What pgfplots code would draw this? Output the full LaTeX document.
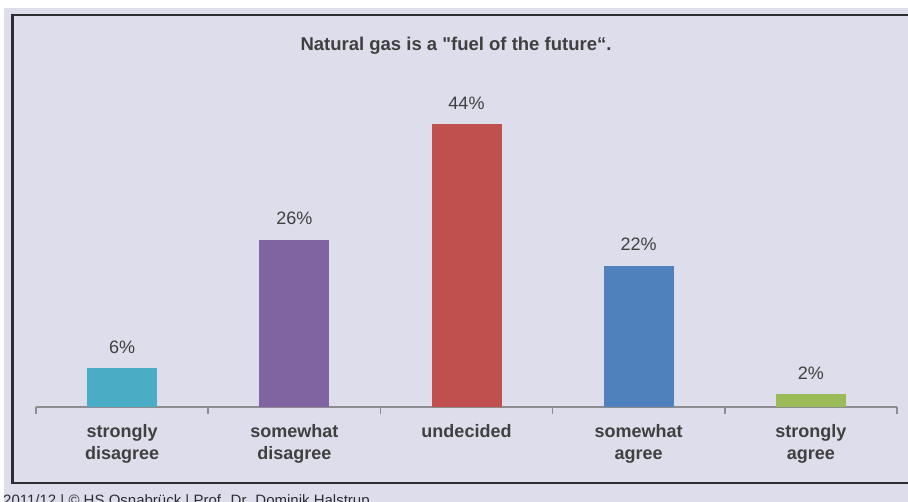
\documentclass[border=0pt]{standalone}
\usepackage{pgfplots}
\pgfplotsset{compat=1.18}
\usepackage{fontspec}
\setmainfont{Liberation Sans}
\newfontfamily\rawfont{Liberation Sans}[Ligatures=ResetAll]
\definecolor{bg}{RGB}{221,221,235}
\definecolor{bordercol}{RGB}{45,45,50}
\definecolor{axisgray}{RGB}{140,140,145}
\definecolor{txt}{RGB}{64,64,64}
\definecolor{cteal}{RGB}{75,172,198}
\definecolor{cpurple}{RGB}{128,100,162}
\definecolor{cred}{RGB}{192,80,77}
\definecolor{cblue}{RGB}{79,129,189}
\definecolor{cgreen}{RGB}{155,187,89}
\begin{document}
\begin{tikzpicture}[x=1pt,y=1pt]
\useasboundingbox (0,0) rectangle (908,502);
\clip (0,0) rectangle (908,502);
\fill[white] (0,0) rectangle (908,502);
\fill[bg] (4,0) rectangle (908,494);
\draw[line width=2.5pt, draw=bordercol] (12.5,19) rectangle (930,487);
\begin{axis}[
  at={(36pt,95pt)}, anchor=south west,
  scale only axis, width=861pt, height=321.5pt,
  xmin=-0.5, xmax=4.5, ymin=0, ymax=50,
  ybar, bar shift=0pt, bar width=70pt,
  hide y axis, axis x line*=bottom,
  x axis line style={draw=axisgray, line width=1.5pt},
  xtick={0,1,2,3,4},
  xticklabels={{strongly\\disagree},{somewhat\\disagree},{undecided},{somewhat\\agree},{strongly\\agree}},
  major tick length=0pt,
  minor xtick={-0.5,0.5,1.5,2.5,3.5,4.5},
  minor tick length=7pt, tick align=outside,
  minor tick style={draw=axisgray, line width=1.5pt},
  xticklabel style={font=\fontsize{18}{22}\selectfont\bfseries, text=txt, align=center, anchor=north, yshift=-14pt},
  /pgf/number format/assume math mode=true,
  nodes near coords={\pgfmathprintnumber{\pgfplotspointmeta}\%},
  every node near coord/.append style={font=\fontsize{18}{21}\selectfont, text=txt, anchor=base, yshift=15pt},
  clip=false,
]
\addplot[fill=cteal, draw=none] coordinates {(0,6)};
\addplot[fill=cpurple, draw=none] coordinates {(1,26)};
\addplot[fill=cred, draw=none] coordinates {(2,44)};
\addplot[fill=cblue, draw=none] coordinates {(3,22)};
\addplot[fill=cgreen, draw=none] coordinates {(4,2)};
\end{axis}
\node[anchor=base, font=\fontsize{18.5}{22}\selectfont\bfseries, text=txt] at (456,451) {Natural gas is a {\rawfont\bfseries"}fuel of the future“.};
\node[anchor=base west, inner sep=0pt, font=\fontsize{15}{17}\selectfont, text=bordercol] at (3,-4) {2011/12 | © HS Osnabrück | Prof. Dr. Dominik Halstrup};
\end{tikzpicture}
\end{document}
